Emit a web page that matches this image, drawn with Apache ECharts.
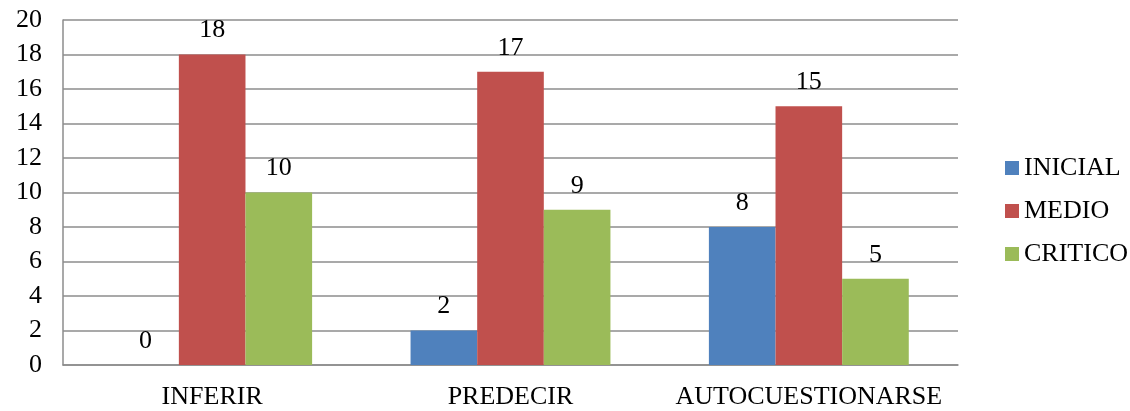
<!DOCTYPE html>
<html><head><meta charset="utf-8">
<script src="https://cdn.jsdelivr.net/npm/echarts@6/dist/echarts.min.js"></script>
<style>html,body{margin:0;padding:0;background:#fff}#c{width:1130px;height:411px}</style>
</head><body><div id="c"></div>
<script>
const categories = ['INFERIR', 'PREDECIR', 'AUTOCUESTIONARSE'];
const seriesNames = ['INICIAL', 'MEDIO', 'CRITICO'];
const inicial = [0, 2, 8];
const medio = [18, 17, 15];
const critico = [10, 9, 5];
const yTicks = {min: 0, max: 20, interval: 2};
const colors = ['#4F81BD', '#C0504D', '#9BBB59'];
const font = '"Liberation Serif", "Times New Roman", serif';
const FS = 26;
const chart = echarts.init(document.getElementById('c'));
const mk = (name, data, color) => ({
  name, type: 'bar', data, barGap: '0%', barCategoryGap: '33%',
  itemStyle: {color},
  label: {show: true, position: 'top', distance: 11, color: '#000', fontFamily: font, fontSize: FS},
  emphasis: {disabled: true}
});
chart.setOption({
  animation: false,
  textStyle: {fontFamily: font},
  color: colors,
  grid: {left: 63, right: 172, top: 20, bottom: 46, containLabel: false},
  legend: {
    orient: 'vertical', left: 1000, top: 150, itemWidth: 14, itemHeight: 14, itemGap: 17,
    icon: 'rect',
    textStyle: {fontFamily: font, fontSize: FS, color: '#000'},
    data: seriesNames
  },
  xAxis: {
    type: 'category', data: categories,
    axisLine: {lineStyle: {color: '#8c8c8c', width: 1.5}},
    axisTick: {show: false},
    axisLabel: {fontFamily: font, fontSize: FS, color: '#000', margin: 19, interval: 0, hideOverlap: false}
  },
  yAxis: {
    type: 'value', min: yTicks.min, max: yTicks.max, interval: yTicks.interval,
    axisLine: {show: true, lineStyle: {color: '#8c8c8c', width: 1.5}},
    axisTick: {show: false},
    splitLine: {lineStyle: {color: '#8c8c8c', width: 1.5}},
    axisLabel: {fontFamily: font, fontSize: FS, color: '#000', margin: 21}
  },
  series: [mk(seriesNames[0], inicial, colors[0]), mk(seriesNames[1], medio, colors[1]), mk(seriesNames[2], critico, colors[2])]
});
</script></body></html>
